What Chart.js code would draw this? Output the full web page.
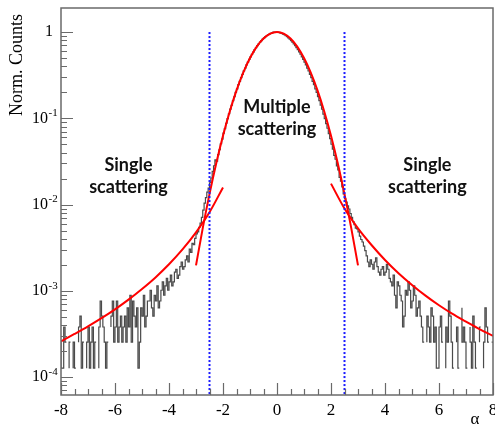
<!DOCTYPE html>
<html>
<head>
<meta charset="utf-8">
<script src="https://cdn.jsdelivr.net/npm/chart.js@4.4.0/dist/chart.umd.min.js"></script>
<style>
  html, body { margin: 0; padding: 0; background: #fff; }
</style>
</head>
<body>
<canvas id="chart" width="495" height="426"></canvas>
<script>
// histogram of alpha, 0.05 wide bins from -8 to 8, counts per bin
const binStart = -8;
const binWidth = 0.05;
const countNorm = 1 / 7874; // peak bin normalised to ~1

// bins -8.00 ... -2.55
const leftTailCounts = [
  2, 1, 1, 3, 2, 0, 1, 2, 0, 1, 2, 1, 0, 2, 3, 4, 1, 2, 0, 1,
  2, 3, 1, 2, 3, 1, 2, 0, 1, 3, 6, 4, 3, 2, 1, 2, 0, 3, 4, 6,
  2, 3, 6, 2, 3, 4, 2, 3, 4, 2, 5, 3, 7, 2, 6, 4, 3, 5, 1, 2,
  5, 4, 7, 3, 4, 6, 6, 8, 5, 4, 7, 6, 9, 5, 6, 8, 10, 7, 9, 11,
  8, 10, 12, 9, 10, 13, 14, 11, 12, 15, 17, 14, 15, 18, 20, 17, 24, 22, 28, 27,
  32, 36, 38, 43, 48, 56, 68, 82, 95, 110
];
// bins -2.50 ... 2.45
const coreCounts = [
  122, 141, 160, 191, 222, 259, 251, 298, 340, 399, 452, 530, 597, 690, 779, 889, 1004, 1116, 1265, 1400,
  1572, 1731, 1930, 2110, 2335, 2540, 2790, 3011, 3282, 3520, 3805, 4060, 4355, 4619, 4920, 5180, 5480, 5729, 6015, 6250,
  6515, 6724, 6958, 7130, 7330, 7462, 7615, 7700, 7852, 7866,
  7874, 7838, 7795, 7699, 7610, 7460, 7325, 7135, 6952, 6720, 6510, 6245, 6010, 5730, 5475, 5182, 4915, 4620, 4352, 4060,
  3803, 3522, 3277, 3010, 2783, 2538, 2331, 2112, 1928, 1732, 1570, 1401, 1264, 1117, 1003, 880, 782, 683, 604, 523,
  459, 394, 345, 292, 264, 221, 198, 163, 147, 126
];
// bins 2.50 ... 7.95
const rightTailCounts = [
  105, 92, 84, 76, 70, 62, 56, 50, 46, 42,
  41, 38, 34, 31, 29, 26, 23, 20, 17, 15, 18, 16, 14, 17, 19, 15, 13, 12, 14, 15,
  12, 13, 16, 14, 11, 10, 9, 12, 7, 5, 10, 9, 7, 6, 3, 4, 8, 7, 10, 8,
  5, 6, 9, 7, 4, 5, 6, 4, 3, 2, 0, 2, 4, 3, 2, 5, 4, 2, 3, 1,
  1, 3, 4, 2, 0, 1, 3, 2, 6, 4, 2, 1, 0, 2, 3, 1, 0, 5, 2, 3,
  2, 1, 0, 3, 2, 1, 4, 2, 1, 0, 2, 3, 0, 1, 2, 5, 3, 2, 0, 2
];

// multiple scattering fit (gaussian)
const gaussX = [-3, -2.75, -2.5, -2.25, -2, -1.75, -1.5, -1.25, -1, -0.75, -0.5, -0.25, 0,
  0.25, 0.5, 0.75, 1, 1.25, 1.5, 1.75, 2, 2.25, 2.5, 2.75, 3];
const gaussY = [0.00197, 0.00534, 0.0132, 0.0301, 0.0628, 0.120, 0.211, 0.339, 0.500, 0.678, 0.841, 0.958, 1.0,
  0.958, 0.841, 0.678, 0.500, 0.339, 0.211, 0.120, 0.0628, 0.0301, 0.0132, 0.00534, 0.00197];

// single scattering tails
const tailLeftX = [-8, -7.5, -7, -6.5, -6, -5.5, -5, -4.5, -4, -3.5, -3, -2.5, -2];
const tailLeftY = [2.6e-4, 3.16e-4, 3.87e-4, 4.82e-4, 6.1e-4, 7.9e-4, 1.05e-3, 1.43e-3, 2.03e-3, 3.02e-3, 4.77e-3, 8.15e-3, 1.58e-2];
const tailRightX = [2, 2.5, 3, 3.5, 4, 4.5, 5, 5.5, 6, 6.5, 7, 7.5, 8];
const tailRightY = [1.75e-2, 9.0e-3, 5.3e-3, 3.4e-3, 2.28e-3, 1.6e-3, 1.17e-3, 8.8e-4, 6.8e-4, 5.4e-4, 4.4e-4, 3.6e-4, 3.0e-4];

// region boundaries
const cutX = [-2.5, 2.5];

const xMin = -8, xMax = 8;
const yMin = 6.2e-5, yMax = 1.9;
const xTickLabels = [-8, -6, -4, -2, 0, 2, 4, 6, 8];
const yTickExps = [0, -1, -2, -3, -4];

const regionLabels = [
  { x: -5.5, lines: ['Single', 'scattering'], y: [0.0286, 0.0157] },
  { x: 0, lines: ['Multiple', 'scattering'], y: [0.136, 0.0757] },
  { x: 5.57, lines: ['Single', 'scattering'], y: [0.0286, 0.0157] }
];

// build the step histogram points (left edges + closing edge)
const allCounts = leftTailCounts.concat(coreCounts, rightTailCounts);
const histPoints = allCounts.map((c, i) => ({ x: binStart + i * binWidth, y: c * countNorm }));
histPoints.push({ x: xMax, y: allCounts[allCounts.length - 1] * countNorm });

const toPoints = (xs, ys) => xs.map((v, i) => ({ x: v, y: ys[i] }));

const SERIF = "'Liberation Serif', 'Times New Roman', serif";

// frame, ROOT-like ticks, labels and texts
const decorPlugin = {
  id: 'decor',
  afterDraw(chart) {
    const { ctx, chartArea: a, scales } = chart;
    const x = scales.x, y = scales.y;
    ctx.save();
    ctx.strokeStyle = '#6a6a6a';
    ctx.lineWidth = 1.5;
    ctx.strokeRect(a.left, a.top, a.right - a.left, a.bottom - a.top);

    // x ticks
    ctx.beginPath();
    for (let k = 0; k <= 32; k++) {
      const v = xMin + k * 0.5;
      const px = Math.round(x.getPixelForValue(v)) + 0.5;
      const len = k % 4 === 0 ? 12 : 6;
      ctx.moveTo(px, a.bottom);
      ctx.lineTo(px, a.bottom - len);
    }
    // y ticks
    for (let e = -5; e <= 0; e++) {
      for (let m = 1; m <= 9; m++) {
        const v = m * Math.pow(10, e);
        if (v < yMin || v > yMax) continue;
        const py = Math.round(y.getPixelForValue(v)) + 0.5;
        const len = m === 1 ? 12 : 6;
        ctx.moveTo(a.left, py);
        ctx.lineTo(a.left + len, py);
      }
    }
    ctx.lineWidth = 1.2;
    ctx.stroke();

    // x tick labels
    ctx.fillStyle = '#000';
    ctx.font = '17px ' + SERIF;
    ctx.textAlign = 'center';
    ctx.textBaseline = 'middle';
    xTickLabels.forEach(v => {
      ctx.fillText(String(v), x.getPixelForValue(v), 411);
    });

    // y tick labels, 10^n
    yTickExps.forEach(n => {
      const py = y.getPixelForValue(Math.pow(10, n));
      ctx.textBaseline = 'middle';
      ctx.font = '16px ' + SERIF;
      ctx.textAlign = 'right';
      if (n === 0) {
        ctx.fillText('1', 53, py);
      } else {
        ctx.fillText('10', 48, py);
        ctx.font = '11px ' + SERIF;
        ctx.textAlign = 'left';
        ctx.fillText(String(n), 48.5, py - 5);
      }
    });

    // axis titles
    ctx.font = '18px ' + SERIF;
    ctx.textAlign = 'right';
    ctx.textBaseline = 'middle';
    ctx.save();
    ctx.translate(17, 14);
    ctx.rotate(-Math.PI / 2);
    ctx.fillText('Norm. Counts', 0, 0);
    ctx.restore();
    ctx.textAlign = 'center';
    ctx.font = '17px ' + SERIF;
    ctx.fillText('\u03b1', 475, 420);

    // region texts
    ctx.font = "bold 18px Lato, 'Open Sans', sans-serif";
    ctx.fillStyle = '#111';
    regionLabels.forEach(r => {
      r.lines.forEach((t, i) => {
        ctx.fillText(t, x.getPixelForValue(r.x), y.getPixelForValue(r.y[i]));
      });
    });
    ctx.restore();
  }
};

const redLine = {
  borderColor: '#ff0000',
  borderWidth: 2,
  pointRadius: 0,
  cubicInterpolationMode: 'monotone',
  order: 2
};
const blueLine = {
  borderColor: '#1a1aff',
  borderWidth: 2,
  borderDash: [2, 2],
  pointRadius: 0,
  order: 1
};

new Chart(document.getElementById('chart'), {
  type: 'line',
  data: {
    datasets: [
      {
        label: 'data',
        data: histPoints,
        stepped: 'after',
        borderColor: '#4a4a4a',
        borderWidth: 1.2,
        pointRadius: 0,
        order: 3
      },
      Object.assign({ label: 'multiple', data: toPoints(gaussX, gaussY) }, redLine),
      Object.assign({ label: 'single L', data: toPoints(tailLeftX, tailLeftY) }, redLine),
      Object.assign({ label: 'single R', data: toPoints(tailRightX, tailRightY) }, redLine),
      Object.assign({ label: 'cut L', data: [{ x: cutX[0], y: 1 }, { x: cutX[0], y: yMin }] }, blueLine),
      Object.assign({ label: 'cut R', data: [{ x: cutX[1], y: 1 }, { x: cutX[1], y: yMin }] }, blueLine)
    ]
  },
  options: {
    responsive: false,
    animation: false,
    devicePixelRatio: 1,
    layout: { padding: { top: 8, right: 2, left: 0, bottom: 0 } },
    plugins: {
      legend: { display: false },
      tooltip: { enabled: false }
    },
    scales: {
      x: {
        type: 'linear',
        min: xMin,
        max: xMax,
        ticks: { display: false },
        grid: { display: false },
        border: { display: false },
        afterFit: s => { s.height = 31; }
      },
      y: {
        type: 'logarithmic',
        min: yMin,
        max: yMax,
        ticks: { display: false },
        grid: { display: false },
        border: { display: false },
        afterFit: s => { s.width = 61; }
      }
    }
  },
  plugins: [decorPlugin]
});
</script>
</body>
</html>
